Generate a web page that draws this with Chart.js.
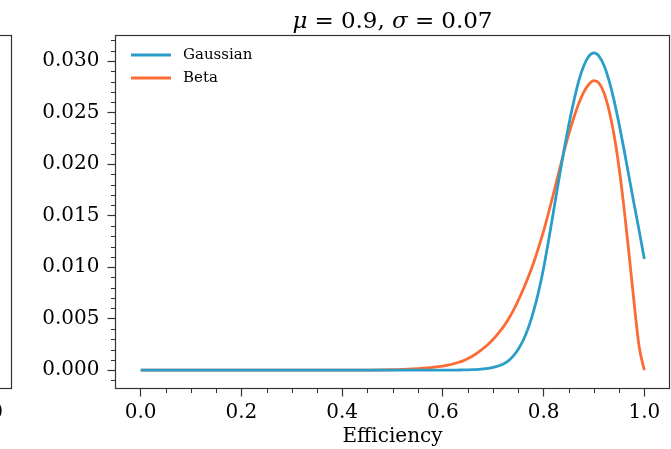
<!DOCTYPE html>
<html>
<head>
<meta charset="utf-8">
<script src="https://cdn.jsdelivr.net/npm/chart.js@4.4.0/dist/chart.umd.min.js"></script>
<style>
html,body{margin:0;padding:0;background:#fff;overflow:hidden}
canvas{display:block}
</style>
</head>
<body>
<canvas id="c" width="671" height="449"></canvas>
<script>
// ---- data ----
const efficiency = [0, 0.1, 0.2, 0.3, 0.4, 0.45, 0.5, 0.52, 0.54, 0.56, 0.58,
  0.60, 0.61, 0.62, 0.63, 0.64, 0.65, 0.66, 0.67, 0.68, 0.69,
  0.70, 0.71, 0.72, 0.73, 0.74, 0.75, 0.76, 0.77, 0.78, 0.79,
  0.80, 0.81, 0.82, 0.83, 0.84, 0.85, 0.86, 0.87, 0.88, 0.89,
  0.90, 0.91, 0.92, 0.93, 0.94, 0.95, 0.96, 0.97, 0.98, 0.99, 1.00];
const gaussian = [0, 0, 0, 0, 0, 0, 0, 0, 0, 0, 0.000001,
  0.000003, 0.000005, 0.000008, 0.000013, 0.00002, 0.00003, 0.00005, 0.00008, 0.00012, 0.00018,
  0.00027, 0.0004, 0.0006, 0.0009, 0.00138, 0.00205, 0.00295, 0.00415, 0.0057, 0.0076,
  0.0099, 0.0126, 0.0155, 0.0184, 0.0212, 0.0238, 0.0261, 0.0281, 0.02957, 0.03049,
  0.0308, 0.03049, 0.02957, 0.0281, 0.02616, 0.02386, 0.02133, 0.01868, 0.01603, 0.01348, 0.0108];
const beta = [0, 0, 0, 0, 0.000001, 0.00001, 0.00004, 0.00007, 0.00012, 0.00019, 0.00028,
  0.0004, 0.00048, 0.0006, 0.00074, 0.0009, 0.00112, 0.0014, 0.00173, 0.0021, 0.00252,
  0.003, 0.00357, 0.0042, 0.00495, 0.0058, 0.0068, 0.0079, 0.0091, 0.0104, 0.0119,
  0.0135, 0.0153, 0.0172, 0.01915, 0.0211, 0.0229, 0.0245, 0.0259, 0.027, 0.02775,
  0.0281, 0.02785, 0.0269, 0.0252, 0.0228, 0.0196, 0.0156, 0.0111, 0.0064, 0.0022, 0.0000];
const seriesLabels = ['Gaussian', 'Beta'];
const xTickValues = [0.0, 0.2, 0.4, 0.6, 0.8, 1.0];
const yTickValues = [0.000, 0.005, 0.010, 0.015, 0.020, 0.025, 0.030];
const xAxisTitle = 'Efficiency';
const chartTitle = 'μ=0.9, σ=0.07';
const neighbourTickLabel = '1.0';

// ---- styles ----
const FONT = "'DejaVu Serif', 'Liberation Serif', serif";
const COLORS = ['#2a9dc9', '#fb6c35'];
const FRAME = '#333333';
const LINE_W = 2.8;

const toPoints = ys => efficiency.map((x, i) => ({x: x, y: ys[i]}));

const decorPlugin = {
  id: 'decor',
  afterDraw(chart) {
    const ctx = chart.ctx;
    const a = chart.chartArea;
    const xs = chart.scales.x, ys = chart.scales.y;
    ctx.save();
    // frame
    ctx.strokeStyle = FRAME;
    ctx.lineWidth = 1.2;
    ctx.strokeRect(a.left, a.top, a.right - a.left, a.bottom - a.top);
    // neighbouring panel edge (cut off on the left)
    ctx.strokeRect(-20, a.top, 20 + 11.5, a.bottom - a.top);
    // minor ticks
    ctx.lineWidth = 1;
    ctx.beginPath();
    for (let k = 1; k < 21; k++) {
      if (k % 4 === 0) continue;
      const v = k * 0.05;
      const px = Math.round(xs.getPixelForValue(v)) + 0.5;
      ctx.moveTo(px, a.bottom);
      ctx.lineTo(px, a.bottom + 4.5);
    }
    for (let k = -1; k <= 32; k++) {
      if (k % 5 === 0) continue;
      const v = k * 0.001;
      const py = Math.round(ys.getPixelForValue(v)) + 0.5;
      if (py > a.bottom || py < a.top) continue;
      ctx.moveTo(a.left, py);
      ctx.lineTo(a.left - 4.5, py);
    }
    ctx.stroke();

    // title with italic greek letters
    const size = 23;
    const parts = chartTitle.match(/[μσ]|=|[^μσ=]+/g);
    const fontFor = p => (/[μσ]/.test(p) ? 'italic ' : '') + size + 'px ' + FONT;
    let sum = 0, nOps = 0;
    const widths = parts.map(p => { ctx.font = fontFor(p); const w = ctx.measureText(p).width; sum += w; if (p === '=') nOps++; return w; });
    const gap = Math.max(1, Math.min(8, (200 - sum) / (2 * nOps)));
    const total = sum + gap * 2 * nOps;
    let x = (a.left + a.right) / 2 - total / 2;
    ctx.fillStyle = '#000';
    ctx.textBaseline = 'alphabetic';
    ctx.textAlign = 'left';
    parts.forEach((p, i) => {
      if (p === '=') x += gap;
      ctx.font = fontFor(p);
      ctx.fillText(p, x, 28);
      x += widths[i];
      if (p === '=') x += gap;
    });

    // legend inside the axes
    ctx.font = '15px ' + FONT;
    ctx.textBaseline = 'middle';
    chart.data.datasets.forEach((ds, i) => {
      const y = a.top + 19.5 + i * 23;
      ctx.strokeStyle = ds.borderColor;
      ctx.lineWidth = LINE_W;
      ctx.beginPath();
      ctx.moveTo(a.left + 15.5, y);
      ctx.lineTo(a.left + 55.5, y);
      ctx.stroke();
      ctx.fillStyle = '#000';
      ctx.fillText(ds.label, a.left + 67.5, y + 0.5);
    });

    // cut-off tick label of the neighbouring panel
    ctx.font = '20px ' + FONT;
    ctx.textAlign = 'right';
    ctx.fillText(neighbourTickLabel, 3, a.bottom + 8 + 4 + 12);
    ctx.restore();
  }
};

new Chart(document.getElementById('c'), {
  type: 'line',
  data: {
    datasets: [
      {label: seriesLabels[0], data: toPoints(gaussian), borderColor: COLORS[0]},
      {label: seriesLabels[1], data: toPoints(beta), borderColor: COLORS[1]}
    ]
  },
  options: {
    responsive: false,
    animation: false,
    devicePixelRatio: 1,
    layout: {padding: {top: 35.5, right: 1.5, bottom: 0, left: 0}},
    elements: {
      point: {radius: 0},
      line: {borderWidth: LINE_W, cubicInterpolationMode: 'monotone', fill: false, borderCapStyle: 'butt', borderJoinStyle: 'round'}
    },
    plugins: {legend: {display: false}, tooltip: {enabled: false}, title: {display: false}},
    scales: {
      x: {
        type: 'linear', min: -0.05, max: 1.05,
        afterBuildTicks: s => { s.ticks = xTickValues.map(v => ({value: v})); },
        afterFit: s => { s.height = 60.5; },
        ticks: {autoSkip: false, maxRotation: 0, padding: 4, color: '#000',
          font: {family: FONT, size: 20}, callback: v => Number(v).toFixed(1)},
        grid: {drawOnChartArea: false, drawTicks: true, tickLength: 8, tickColor: FRAME, tickWidth: 1.2},
        border: {display: false},
        title: {display: true, text: xAxisTitle, color: '#000', font: {family: FONT, size: 20}, padding: {top: 0, bottom: 0}}
      },
      y: {
        type: 'linear', min: -0.00178, max: 0.03248,
        afterBuildTicks: s => { s.ticks = yTickValues.map(v => ({value: v})); },
        afterFit: s => { s.width = 115.5; },
        ticks: {autoSkip: false, padding: 8, color: '#000',
          font: {family: FONT, size: 20}, callback: v => Number(v).toFixed(3)},
        grid: {drawOnChartArea: false, drawTicks: true, tickLength: 8, tickColor: FRAME, tickWidth: 1.2},
        border: {display: false}
      }
    }
  },
  plugins: [decorPlugin]
});
</script>
</body>
</html>
